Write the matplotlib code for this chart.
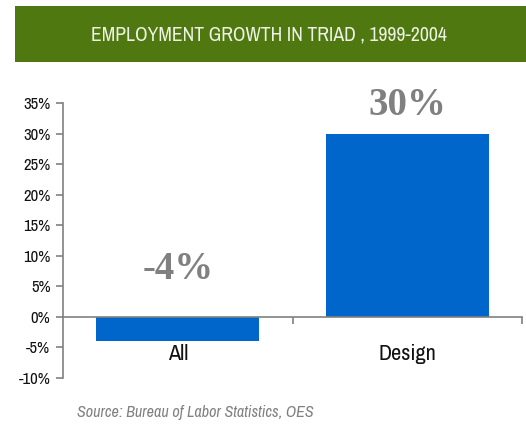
import matplotlib.pyplot as plt
from matplotlib.patches import Rectangle
from matplotlib.ticker import FuncFormatter, FixedLocator

categories = ["All", "Design"]
growth = [-0.04, 0.30]
value_labels = ["-4%", "30%"]
label_y = [0.077, 0.346]
y_ticks = [-0.10, -0.05, 0.0, 0.05, 0.10, 0.15, 0.20, 0.25, 0.30, 0.35]

narrow = ["Archivo Narrow", "DejaVu Sans"]
grey = "#808080"

fig = plt.figure(figsize=(5.26, 4.26), dpi=100)

# green title banner
fig.patches.append(Rectangle((15 / 526, 1 - 62 / 426), 511 / 526, 56 / 426,
                             transform=fig.transFigure, facecolor="#4f7811",
                             edgecolor="none"))
fig.text(269 / 526, 1 - 35 / 426, "EMPLOYMENT GROWTH IN TRIAD , 1999-2004",
         ha="center", va="center", color="#eef2e4", fontsize=14.2, family=narrow)

ax = fig.add_axes([63 / 526, 1 - 378 / 426, 459 / 526, 275 / 426])
x = list(range(len(categories)))
ax.bar(x, growth, width=0.71, color="#0066cc")
ax.set_xlim(-0.5, 1.5)
ax.set_ylim(-0.10, 0.35)

for xi, lab, ly in zip(x, value_labels, label_y):
    ax.text(xi, ly, lab, ha="center", va="center", color=grey,
            fontsize=28, fontweight="bold", family="Liberation Serif")

ax.spines["top"].set_visible(False)
ax.spines["right"].set_visible(False)
ax.spines["bottom"].set_position(("data", 0))
for s in ("left", "bottom"):
    ax.spines[s].set_color(grey)
    ax.spines[s].set_linewidth(1.2)

ax.yaxis.set_major_locator(FixedLocator(y_ticks))
ax.yaxis.set_major_formatter(FuncFormatter(lambda v, p: f"{v * 100:.0f}%"))
ax.tick_params(axis="y", direction="out", length=5, color=grey, width=1.2,
               labelsize=12, pad=4, labelcolor="#111111")
for t in ax.get_yticklabels():
    t.set_family(narrow)

# category boundaries as ticks, names placed under the zero line
ax.set_xticks([0.5, 1.5])
ax.set_xticklabels([])
ax.tick_params(axis="x", direction="out", length=5, color=grey, width=1.2)
for xi, name in zip(x, categories):
    ax.text(xi, -0.061, name, ha="center", va="center", fontsize=16,
            family=narrow, color="#111111")

fig.text(77 / 526, 1 - 413 / 426, "Source: Bureau of Labor Statistics, OES",
         ha="left", va="center", color=grey, fontsize=11.6, style="italic",
         family=narrow)

fig.savefig("out.png", dpi=100)
